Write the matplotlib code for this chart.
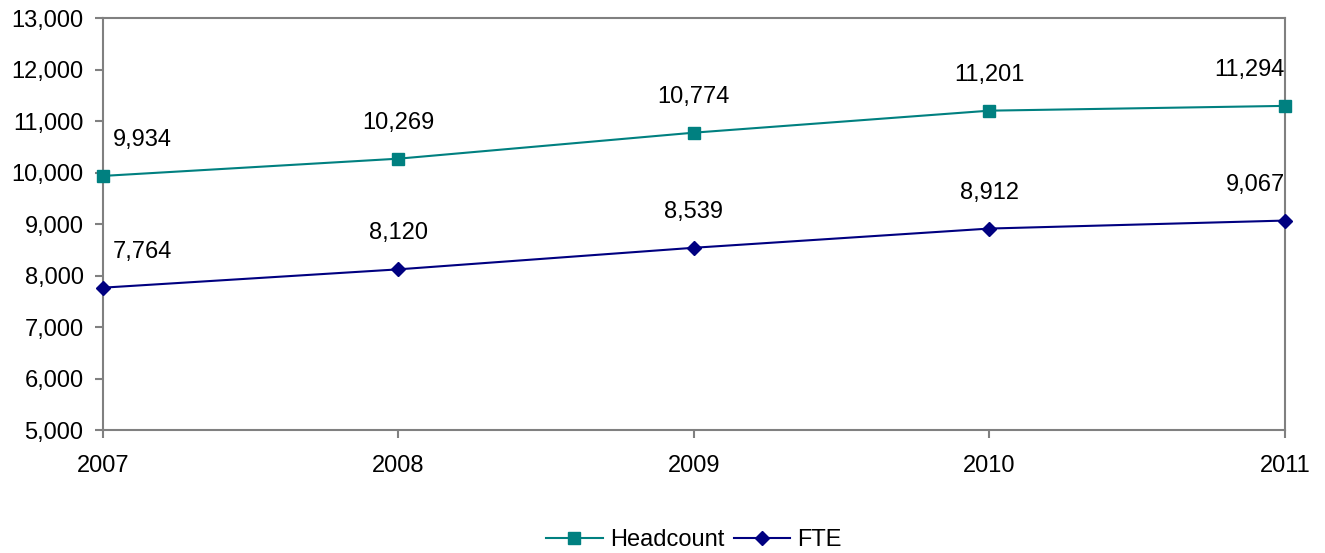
import matplotlib.pyplot as plt
from matplotlib.ticker import FuncFormatter

plt.rcParams['font.family'] = ['Liberation Sans', 'DejaVu Sans']

years = ['2007', '2008', '2009', '2010', '2011']
headcount = [9934, 10269, 10774, 11201, 11294]
fte = [7764, 8120, 8539, 8912, 9067]

fig = plt.figure(figsize=(13.25, 5.53), dpi=100)
ax = fig.add_axes([0.0777, 0.2224, 0.892, 0.745])

x = list(range(len(years)))
ax.plot(x, headcount, color='#008080', marker='s', markersize=8, lw=1.5,
        label='Headcount', clip_on=False, zorder=3)
ax.plot(x, fte, color='#000080', marker='D', markersize=7.5, lw=1.5,
        label='FTE', clip_on=False, zorder=3)

for series in (headcount, fte):
    for i, v in enumerate(series):
        ha = 'center'
        dx = 0
        if i == 0:
            ha = 'left'
            dx = 7
        elif i == len(series) - 1:
            ha = 'right'
            dx = 0
        ax.annotate(f'{v:,}', (i, v), xytext=(dx, 18), textcoords='offset points',
                    ha=ha, va='bottom', fontsize=17)

ax.set_xlim(0, len(years) - 1)
ax.set_ylim(5000, 13000)
ax.set_yticks(range(5000, 13001, 1000))
ax.yaxis.set_major_formatter(FuncFormatter(lambda v, p: f'{int(v):,}'))
ax.set_xticks(x)
ax.set_xticklabels(years)
ax.tick_params(axis='both', labelsize=17, color='#808080', length=6, width=1.5)
ax.tick_params(axis='y', pad=8)
ax.tick_params(axis='x', pad=12)
for s in ax.spines.values():
    s.set_color('#808080')
    s.set_linewidth(1.5)

ax.legend(loc='upper center', bbox_to_anchor=(0.5, -0.2), ncol=2, frameon=False,
          fontsize=17, handlelength=2.4, columnspacing=0.4, handletextpad=0.3,
          borderpad=0.2)

fig.savefig('out.png', dpi=100)
